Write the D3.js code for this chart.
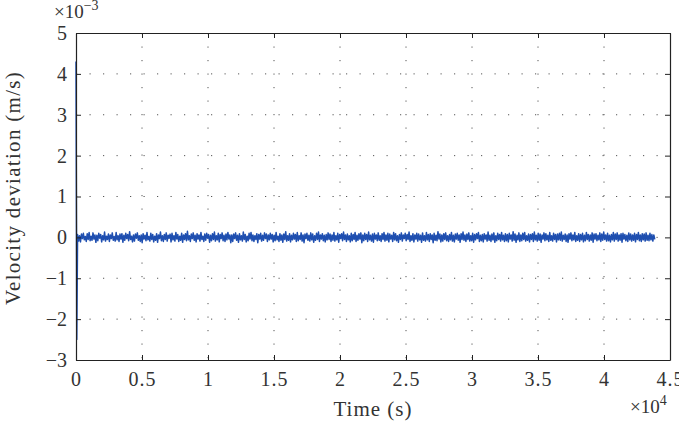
<!DOCTYPE html>
<html>
<head>
<meta charset="utf-8">
<script src="https://cdn.jsdelivr.net/npm/d3@7"></script>
<style>
  body { margin: 0; background: #fff; }
  svg text { font-family: "Liberation Serif", "DejaVu Serif", serif; fill: #333; }
</style>
</head>
<body>
<svg id="chart" width="679" height="423"></svg>
<script>
// values in units of 1e-3 m/s, time in seconds
const xTicks = [0, 5000, 10000, 15000, 20000, 25000, 30000, 35000, 40000, 45000];
const xTickLabels = ["0", "0.5", "1", "1.5", "2", "2.5", "3", "3.5", "4", "4.5"];
const yTicks = [-3, -2, -1, 0, 1, 2, 3, 4, 5];
const yTickLabels = ["\u22123", "\u22122", "\u22121", "0", "1", "2", "3", "4", "5"];

// initial transient
const startTimes = [0, 60];
const startValues = [4.3, -2.5];

// steady-state noise, sampled every noiseStep seconds from noiseStart
const noiseStart = 120;
const noiseStep = 73;
const noiseValues = [
  0.07,-0.09,0.04,-0.11,0.08,-0.03,0.1,-0.06,0.02,-0.1,0.09,-0.05,0.12,-0.08,0.03,-0.07,0.11,-0.04,0.06,-0.12,
  0.05,-0.08,0.1,-0.02,0.07,-0.11,0.04,-0.06,0.13,-0.09,0.03,-0.05,0.08,-0.1,0.06,-0.03,0.11,-0.07,0.02,-0.09,
  0.12,-0.06,0.04,-0.1,0.08,-0.04,0.09,-0.12,0.05,-0.07,0.1,-0.03,0.07,-0.08,0.14,-0.05,0.03,-0.11,0.06,-0.09,
  0.08,-0.02,0.11,-0.07,0.04,-0.1,0.06,-0.13,0.09,-0.04,0.05,-0.08,0.12,-0.06,0.02,-0.09,0.1,-0.05,0.07,-0.11,
  0.03,-0.07,0.09,-0.12,0.06,-0.03,0.13,-0.08,0.04,-0.1,0.07,-0.05,0.11,-0.09,0.05,-0.02,0.08,-0.11,0.1,-0.06,
  0.04,-0.09,0.12,-0.04,0.07,-0.1,0.03,-0.07,0.1,-0.12,0.06,-0.05,0.09,-0.08,0.15,-0.06,0.04,-0.1,0.08,-0.03,
  0.11,-0.07,0.05,-0.11,0.09,-0.04,0.06,-0.09,0.12,-0.05,0.03,-0.1,0.08,-0.07,0.1,-0.02,0.07,-0.12,0.05,-0.08,
  0.09,-0.05,0.13,-0.09,0.04,-0.06,0.1,-0.11,0.07,-0.03,0.11,-0.08,0.05,-0.1,0.08,-0.06,0.12,-0.04,0.06,-0.13,
  0.06,-0.1,0.08,-0.03,0.11,-0.07,0.05,-0.12,0.09,-0.06,0.04,-0.09,0.13,-0.05,0.07,-0.11,0.03,-0.08,0.1,-0.04,
  0.12,-0.08,0.06,-0.1,0.04,-0.05,0.09,-0.13,0.07,-0.04,0.1,-0.09,0.05,-0.07,0.11,-0.03,0.08,-0.1,0.06,-0.06,
  0.1,-0.04,0.07,-0.11,0.05,-0.08,0.12,-0.06,0.03,-0.1,0.09,-0.07,0.06,-0.12,0.08,-0.05,0.14,-0.09,0.04,-0.07,
  0.09,-0.11,0.05,-0.06,0.1,-0.04,0.07,-0.1,0.12,-0.08,0.04,-0.05,0.11,-0.09,0.06,-0.13,0.08,-0.03,0.1,-0.07,
  0.05,-0.09,0.11,-0.06,0.08,-0.12,0.04,-0.07,0.1,-0.05,0.13,-0.1,0.06,-0.04,0.09,-0.08,0.05,-0.11,0.07,-0.06,
  0.11,-0.05,0.08,-0.1,0.06,-0.07,0.12,-0.09,0.04,-0.06,0.1,-0.12,0.07,-0.03,0.09,-0.08,0.13,-0.05,0.06,-0.1,
  0.08,-0.06,0.04,-0.11,0.1,-0.08,0.07,-0.05,0.12,-0.1,0.05,-0.07,0.09,-0.04,0.11,-0.13,0.06,-0.08,0.1,-0.05,
  0.07,-0.1,0.13,-0.06,0.05,-0.09,0.08,-0.12,0.1,-0.04,0.06,-0.08,0.11,-0.07,0.04,-0.1,0.09,-0.05,0.12,-0.09,
  0.06,-0.07,0.1,-0.11,0.08,-0.04,0.05,-0.1,0.12,-0.06,0.09,-0.08,0.04,-0.12,0.07,-0.05,0.11,-0.09,0.06,-0.03,
  0.1,-0.08,0.07,-0.05,0.13,-0.1,0.04,-0.07,0.09,-0.11,0.06,-0.04,0.1,-0.09,0.08,-0.06,0.05,-0.12,0.11,-0.07,
  0.04,-0.09,0.12,-0.06,0.07,-0.1,0.09,-0.05,0.06,-0.13,0.1,-0.07,0.05,-0.08,0.14,-0.04,0.08,-0.11,0.06,-0.09,
  0.09,-0.05,0.11,-0.08,0.04,-0.1,0.07,-0.06,0.12,-0.09,0.05,-0.11,0.08,-0.04,0.1,-0.07,0.06,-0.12,0.09,-0.05,
  0.13,-0.07,0.06,-0.1,0.08,-0.05,0.11,-0.09,0.04,-0.08,0.1,-0.12,0.07,-0.06,0.09,-0.03,0.12,-0.1,0.05,-0.08,
  0.07,-0.11,0.09,-0.04,0.06,-0.09,0.13,-0.07,0.05,-0.1,0.08,-0.06,0.11,-0.12,0.04,-0.08,0.1,-0.05,0.07,-0.09,
  0.12,-0.06,0.05,-0.1,0.09,-0.08,0.07,-0.11,0.1,-0.04,0.06,-0.09,0.14,-0.07,0.08,-0.12,0.05,-0.06,0.11,-0.1,
  0.06,-0.08,0.1,-0.05,0.12,-0.09,0.04,-0.07,0.08,-0.11,0.07,-0.05,0.09,-0.1,0.13,-0.06,0.05,-0.09,0.1,-0.07,
  0.08,-0.12,0.06,-0.04,0.11,-0.08,0.09,-0.06,0.05,-0.1,0.12,-0.07,0.04,-0.09,0.1,-0.05,0.07,-0.11,0.08,-0.06,
  0.1,-0.07,0.13,-0.09,0.05,-0.05,0.08,-0.1,0.06,-0.12,0.09,-0.04,0.11,-0.08,0.06,-0.06,0.12,-0.1,0.04,-0.07,
  0.09,-0.1,0.07,-0.06,0.1,-0.11,0.05,-0.08,0.12,-0.05,0.07,-0.09,0.06,-0.07,0.11,-0.12,0.08,-0.04,0.09,-0.08,
  0.05,-0.06,0.11,-0.1,0.08,-0.07,0.13,-0.05,0.06,-0.09,0.1,-0.08,0.05,-0.11,0.07,-0.06,0.12,-0.09,0.08,-0.05,
  0.11,-0.09,0.06,-0.07,0.09,-0.12,0.1,-0.04,0.07,-0.08,0.05,-0.1,0.11,-0.06,0.08,-0.09,0.06,-0.07,0.1,-0.11,
  0.07,-0.05,0.12,-0.08,0.06,-0.1,0.09,-0.06,0.08,-0.09,0.11,-0.07,0.05,-0.08,0.1,-0.06,0.07,-0.09,0.06,-0.05
];

const width = 679, height = 423;
const margin = { top: 33, right: 9, bottom: 63, left: 76 };
const innerWidth = width - margin.left - margin.right;
const innerHeight = height - margin.top - margin.bottom;

const svg = d3.select("#chart");
const g = svg.append("g").attr("transform", `translate(${margin.left},${margin.top})`);

const x = d3.scaleLinear().domain([0, 45000]).range([0, innerWidth]);
const y = d3.scaleLinear().domain([-3, 5]).range([innerHeight, 0]);

// build the series
const series = startTimes.map((t, i) => ({ t: t, v: startValues[i] }));
noiseValues.forEach((v, i) => series.push({ t: noiseStart + i * noiseStep, v: v }));

// dotted grid
g.append("g")
  .selectAll("line")
  .data(xTicks.slice(1, -1))
  .enter().append("line")
  .attr("x1", d => x(d)).attr("x2", d => x(d))
  .attr("y1", 0).attr("y2", innerHeight)
  .attr("stroke", "#555").attr("stroke-width", 1)
  .attr("stroke-dasharray", "1.2,12.3");

g.append("g")
  .selectAll("line")
  .data(yTicks.slice(1, -1))
  .enter().append("line")
  .attr("y1", d => y(d)).attr("y2", d => y(d))
  .attr("x1", 0).attr("x2", innerWidth)
  .attr("stroke", "#555").attr("stroke-width", 1)
  .attr("stroke-dasharray", "1.2,12.3");

// data line
g.append("path")
  .datum(series)
  .attr("fill", "none")
  .attr("stroke", "#1f4fb0")
  .attr("stroke-width", 1.5)
  .attr("stroke-linejoin", "round")
  .attr("d", d3.line().x(d => x(d.t)).y(d => y(d.v)));

// axes with inward ticks
const xAxis = g.append("g")
  .attr("transform", `translate(0,${innerHeight})`)
  .call(d3.axisBottom(x).tickValues(xTicks).tickSizeInner(-5).tickSizeOuter(0)
    .tickPadding(12).tickFormat((d, i) => xTickLabels[i]));
const yAxis = g.append("g")
  .call(d3.axisLeft(y).tickValues(yTicks).tickSizeInner(-5).tickSizeOuter(0)
    .tickPadding(9).tickFormat((d, i) => yTickLabels[i]));
g.append("g")
  .call(d3.axisTop(x).tickValues(xTicks).tickSizeInner(-5).tickSizeOuter(0).tickFormat(""));
g.append("g")
  .attr("transform", `translate(${innerWidth},0)`)
  .call(d3.axisRight(y).tickValues(yTicks).tickSizeInner(-5).tickSizeOuter(0).tickFormat(""));

g.selectAll(".domain").attr("stroke", "#222").attr("stroke-width", 1.2);
g.selectAll(".tick line").attr("stroke", "#222");
xAxis.selectAll("text").style("font-size", "20px").style("letter-spacing", "1px").attr("fill", "#333");
yAxis.selectAll("text").style("font-size", "20px").attr("fill", "#333");

// axis titles
svg.append("text")
  .attr("x", margin.left + innerWidth / 2)
  .attr("y", 416)
  .attr("text-anchor", "middle")
  .style("font-size", "21px")
  .style("letter-spacing", "1px")
  .text("Time (s)");

svg.append("text")
  .attr("transform", "rotate(-90)")
  .attr("x", -188)
  .attr("y", 20)
  .attr("text-anchor", "middle")
  .style("font-size", "21px")
  .style("letter-spacing", "1.3px")
  .text("Velocity deviation (m/s)");

// exponent labels
const ex1 = svg.append("text").attr("x", 54).attr("y", 18).style("font-size", "19px");
ex1.append("tspan").text("\u00d710");
ex1.append("tspan").attr("dy", -8).style("font-size", "14px").text("\u22123");

const ex2 = svg.append("text").attr("x", 630).attr("y", 413).style("font-size", "19px");
ex2.append("tspan").text("\u00d710");
ex2.append("tspan").attr("dy", -8).style("font-size", "14px").text("4");
</script>
</body>
</html>
